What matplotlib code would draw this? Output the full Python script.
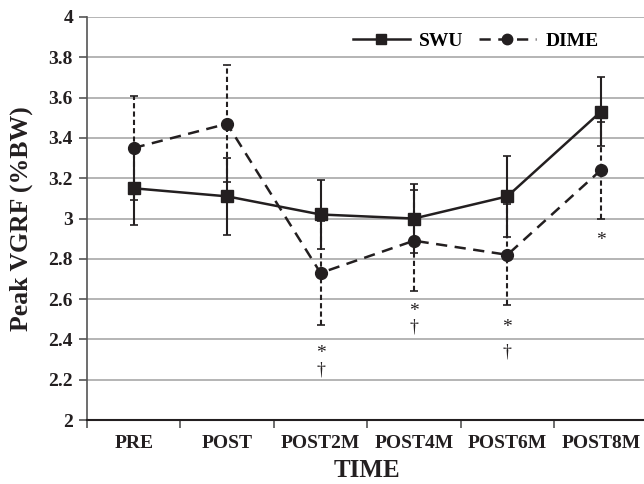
import matplotlib
matplotlib.use("Agg")
import matplotlib.pyplot as plt
from matplotlib.lines import Line2D
import numpy as np

# Data
times = ["PRE", "POST", "POST2M", "POST4M", "POST6M", "POST8M"]
swu_mean = [3.15, 3.11, 3.02, 3.00, 3.11, 3.53]
swu_sd = [0.18, 0.19, 0.17, 0.17, 0.20, 0.17]
dime_mean = [3.35, 3.47, 2.73, 2.89, 2.82, 3.24]
dime_sd = [0.26, 0.29, 0.26, 0.25, 0.25, 0.24]

# significance marks (category index, y value)
star_marks = [(2, 2.33), (3, 2.54), (4, 2.46), (5, 2.89)]
dagger_marks = [(2, 2.25), (3, 2.46), (4, 2.34)]

plt.rcParams['font.family'] = ['Liberation Serif', 'DejaVu Serif']
ink = '#231f20'

fig = plt.figure(figsize=(6.44, 4.84), dpi=100)
ax = fig.add_axes([0.135, 0.132, 0.8705, 0.833])

x = np.arange(len(times))
dash_line = (0, (4.5, 3))

# SWU: solid line, square markers, solid error bars
ax.errorbar(x, swu_mean, yerr=swu_sd, color=ink, lw=1.8, marker='s',
            ms=9, capsize=3, capthick=1.2, elinewidth=1.5, zorder=4)

# DIME: dashed line, circle markers, dashed error bars
eb2 = ax.errorbar(x, dime_mean, yerr=dime_sd, color=ink, lw=1.8,
                  ls=dash_line, marker='o', ms=8.5, capsize=3,
                  capthick=1.2, elinewidth=1.5, zorder=3)
eb2[2][0].set_linestyle((0, (2.5, 1.5)))

for i, yv in star_marks:
    ax.text(i, yv, '*', ha='center', va='center', fontsize=14, color=ink)
for i, yv in dagger_marks:
    ax.text(i, yv, '\u2020', ha='center', va='center', fontsize=13, color=ink)

ax.set_xlim(-0.5, 5.5)
ax.set_ylim(2, 4)
ax.set_yticks(np.arange(2, 4.01, 0.2))
ax.set_yticklabels(['2', '2.2', '2.4', '2.6', '2.8', '3', '3.2', '3.4',
                    '3.6', '3.8', '4'])
ax.set_xticks(x)
ax.set_xticklabels(times)
ax.set_xticks(np.arange(-0.5, 5.6, 1), minor=True)
ax.tick_params(axis='x', which='major', length=0, pad=11)
ax.tick_params(axis='x', which='minor', length=6, width=1.2, color='#555555')
ax.tick_params(axis='y', length=6, width=1.2, color='#555555', pad=4)
for lab in ax.get_xticklabels() + ax.get_yticklabels():
    lab.set_fontweight('bold')
    lab.set_fontsize(14)
    lab.set_color(ink)

ax.yaxis.grid(True, color='#a8a8a8', lw=1.2)
ax.set_axisbelow(True)
for s in ['top', 'right']:
    ax.spines[s].set_visible(False)
ax.spines['left'].set_color('#555555')
ax.spines['left'].set_linewidth(1.2)
ax.spines['bottom'].set_color(ink)
ax.spines['bottom'].set_linewidth(1.5)

ax.set_xlabel('TIME', fontsize=18, fontweight='bold', color=ink, labelpad=5)
ax.set_ylabel('Peak VGRF (%BW)', fontsize=18.5, fontweight='bold', color=ink,
              labelpad=11)

handles = [Line2D([], [], color=ink, lw=1.8, marker='s', ms=7.5),
           Line2D([], [], color=ink, lw=1.8, ls=dash_line, marker='o', ms=7.5)]
ax.legend(handles, ['SWU', 'DIME'], loc='center left', ncol=2, frameon=False,
          bbox_to_anchor=(0.475, 0.94), handlelength=2.9,
          columnspacing=0.8, handletextpad=0.5, borderaxespad=0,
          borderpad=0, prop={'weight': 'bold', 'size': 14})

fig.savefig('out.png', dpi=100)
